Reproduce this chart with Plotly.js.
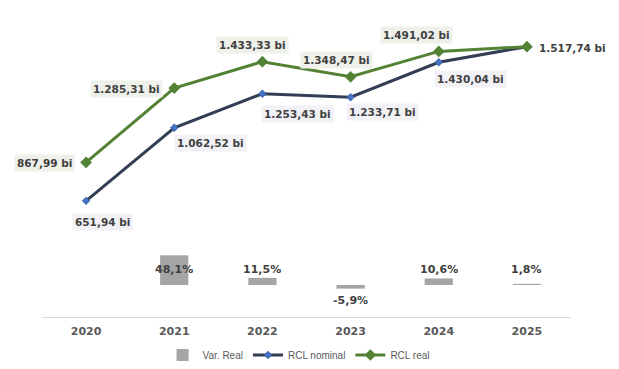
<!DOCTYPE html>
<html>
<head>
<meta charset="utf-8">
<script src="https://cdn.plot.ly/plotly-3.0.1.min.js"></script>
<style>html,body{margin:0;padding:0;background:#fff;}#chart{width:619px;height:369px;}</style>
</head>
<body>
<div id="chart"></div>
<script>
// ---- data ----
const years = ["2020", "2021", "2022", "2023", "2024", "2025"];
const rclNominal = [651.94, 1062.52, 1253.43, 1233.71, 1430.04, 1517.74];
const rclReal = [867.99, 1285.31, 1433.33, 1348.47, 1491.02, 1517.74];
const varReal = [null, 48.1, 11.5, -5.9, 10.6, 1.8];

// ---- helpers ----
function fmtNum(v) {
  const parts = v.toFixed(2).split(".");
  const intPart = parts[0].replace(/\B(?=(\d{3})+(?!\d))/g, ".");
  return intPart + "," + parts[1] + " bi";
}
function fmtPct(v) { return v.toFixed(1).replace(".", ",") + "%"; }

// label offsets (pixels) – layout only
const realOffsets = [[-42, -1], [-48, -1], [-10, 17], [-14, 17], [-22, 16], [46, -1]];
const nomOffsets = [[16, -21], [36, -15], [35, -20], [32, -15], [32, -17], null];

const labelFont = {family: "DejaVu Sans", size: 10.5, color: "#404040", weight: "bold"};
const annotations = [];
years.forEach((yr, i) => {
  const ro = realOffsets[i];
  annotations.push({
    x: i, y: rclReal[i], xref: "x", yref: "y", text: fmtNum(rclReal[i]),
    showarrow: false, xshift: ro[0], yshift: ro[1], font: labelFont,
    bgcolor: i === years.length - 1 ? "rgba(0,0,0,0)" : "#EEF1EA", borderpad: 2
  });
  const no = nomOffsets[i];
  if (no) {
    annotations.push({
      x: i, y: rclNominal[i], xref: "x", yref: "y", text: fmtNum(rclNominal[i]),
      showarrow: false, xshift: no[0], yshift: no[1], font: labelFont,
      bgcolor: "#F2F2F6", borderpad: 2
    });
  }
  if (varReal[i] !== null) {
    const pos = varReal[i] >= 0;
    annotations.push({
      x: i, y: 0, xref: "x", yref: "y2", text: fmtPct(varReal[i]),
      showarrow: false, yanchor: pos ? "bottom" : "top", yshift: pos ? 6.5 : -7.5,
      font: {family: "DejaVu Sans", size: 11, color: "#404040", weight: "bold"}
    });
  }
});

const traces = [
  {
    type: "bar", name: "Var. Real", x: years, y: varReal, yaxis: "y2",
    marker: {color: "#A5A5A5"}, width: 0.32, hoverinfo: "skip"
  },
  {
    type: "scatter", mode: "lines+markers", name: "RCL nominal", x: years, y: rclNominal,
    line: {color: "#323E53", width: 3},
    marker: {symbol: "diamond", size: 6, color: "#4472C4", line: {color: "#2F5597", width: 0.5}},
    hoverinfo: "skip"
  },
  {
    type: "scatter", mode: "lines+markers", name: "RCL real", x: years, y: rclReal,
    line: {color: "#548235", width: 3},
    marker: {symbol: "diamond", size: 9, color: "#548235"},
    hoverinfo: "skip"
  }
];

const layout = {
  width: 619, height: 369,
  margin: {l: 42, r: 48, t: 32, b: 52, autoexpand: false},
  paper_bgcolor: "#ffffff", plot_bgcolor: "#ffffff",
  showlegend: true,
  legend: {
    orientation: "h", x: 0.485, xanchor: "center",
    yref: "container", y: 0.038, yanchor: "middle",
    font: {family: "Liberation Sans", size: 10, color: "#595959"},
    traceorder: "normal", itemwidth: 30
  },
  xaxis: {
    type: "category", categoryorder: "array", categoryarray: years,
    range: [-0.5, years.length - 0.5], autorange: false,
    showgrid: false, zeroline: false,
    showline: true, linecolor: "#D9D9D9", linewidth: 1,
    ticks: "", ticklabelstandoff: 4,
    tickfont: {family: "DejaVu Sans", size: 11, color: "#595959", weight: "bold"},
    fixedrange: true
  },
  yaxis: {
    range: [0, 1600], autorange: false, visible: false, showgrid: false, zeroline: false, fixedrange: true
  },
  yaxis2: {
    range: [-51.9, 410], autorange: false, overlaying: "y", side: "right", visible: false,
    showgrid: false, zeroline: false, fixedrange: true
  },
  annotations: annotations
};

Plotly.newPlot("chart", traces, layout, {displayModeBar: false, staticPlot: true});
</script>
</body>
</html>
